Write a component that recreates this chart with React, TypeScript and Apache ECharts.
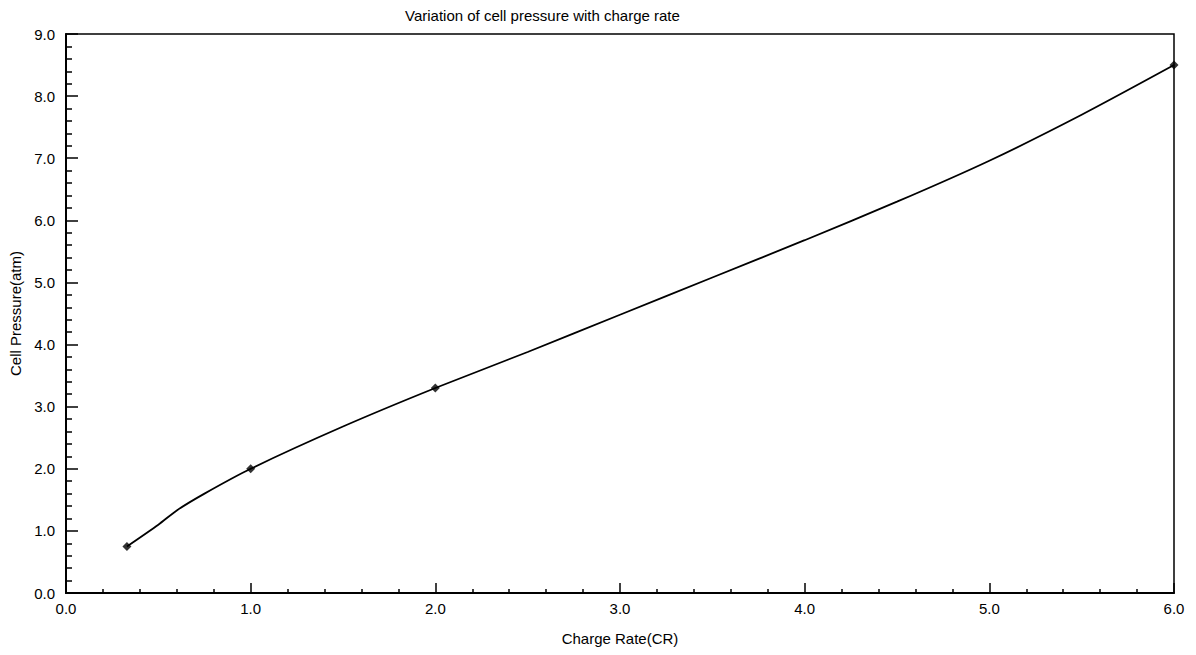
import React, { useEffect, useRef } from "react";
import * as echarts from "echarts";

// Measured operating points (diamond markers)
const markerRate = [0.33, 1.0, 2.0, 6.0];
const markerPressure = [0.75, 2.0, 3.3, 8.5];

// Fitted pressure curve through the measurements
const curveRate = [0.33, 0.5, 0.6, 0.75, 1.0, 1.5, 2.0, 2.5, 3.0, 3.5, 4.0, 4.5, 5.0, 5.5, 6.0];
const curvePressure = [0.75, 1.1, 1.33, 1.6, 2.0, 2.68, 3.3, 3.88, 4.48, 5.08, 5.68, 6.3, 6.96, 7.7, 8.5];

const FONT = "'Liberation Sans', Arial, sans-serif";

export default function App() {
  const ref = useRef<HTMLDivElement>(null);

  useEffect(() => {
    if (!ref.current) return;
    const chart = echarts.init(ref.current, undefined, { renderer: "svg" });
    chart.setOption({
      animation: false,
      backgroundColor: "#ffffff",
      textStyle: { fontFamily: FONT, color: "#000" },
      title: {
        text: "Variation of cell pressure with charge rate",
        left: 400,
        top: 3,
        textStyle: { fontFamily: FONT, fontSize: 15, fontWeight: "normal", color: "#000" },
      },
      grid: {
        left: 66,
        right: 22,
        top: 34,
        bottom: 62,
        show: true,
        borderColor: "#000",
        borderWidth: 1.5,
        backgroundColor: "transparent",
      },
      xAxis: {
        type: "value",
        min: 0,
        max: 6,
        interval: 1,
        name: "Charge Rate(CR)",
        nameLocation: "middle",
        nameGap: 38,
        nameTextStyle: { fontFamily: FONT, fontSize: 15, color: "#000" },
        axisLine: { show: true, onZero: false, lineStyle: { color: "#000", width: 2 } },
        axisTick: { show: true, inside: true, length: 10, lineStyle: { color: "#000", width: 1.5 } },
        minorTick: { show: true, splitNumber: 5, length: 4, lineStyle: { color: "#000", width: 1.5 } },
        axisLabel: {
          fontFamily: FONT,
          fontSize: 15,
          color: "#000",
          margin: 8,
          formatter: (v: number) => v.toFixed(1),
        },
        splitLine: { show: false },
      },
      yAxis: {
        type: "value",
        min: 0,
        max: 9,
        interval: 1,
        name: "Cell Pressure(atm)",
        nameLocation: "middle",
        nameGap: 42,
        nameTextStyle: { fontFamily: FONT, fontSize: 15, color: "#000" },
        axisLine: { show: true, onZero: false, lineStyle: { color: "#000", width: 2 } },
        axisTick: { show: true, inside: true, length: 12, lineStyle: { color: "#000", width: 1.5 } },
        minorTick: { show: true, splitNumber: 5, length: 6, lineStyle: { color: "#000", width: 1.5 } },
        axisLabel: {
          fontFamily: FONT,
          fontSize: 15,
          color: "#000",
          margin: 11,
          formatter: (v: number) => v.toFixed(1),
        },
        splitLine: { show: false },
      },
      series: [
        {
          name: "curve",
          type: "line",
          data: curveRate.map((x, i) => [x, curvePressure[i]]),
          smooth: 0.25,
          showSymbol: false,
          lineStyle: { color: "#000", width: 1.8 },
          z: 2,
        },
        {
          name: "points",
          type: "scatter",
          data: markerRate.map((x, i) => [x, markerPressure[i]]),
          symbol: "diamond",
          symbolSize: 9,
          itemStyle: { color: "#000" },
          z: 3,
        },
      ],
    });
    return () => chart.dispose();
  }, []);

  return (
    <div
      ref={ref}
      style={{ position: "absolute", left: 0, top: 0, width: 1196, height: 655 }}
    />
  );
}
